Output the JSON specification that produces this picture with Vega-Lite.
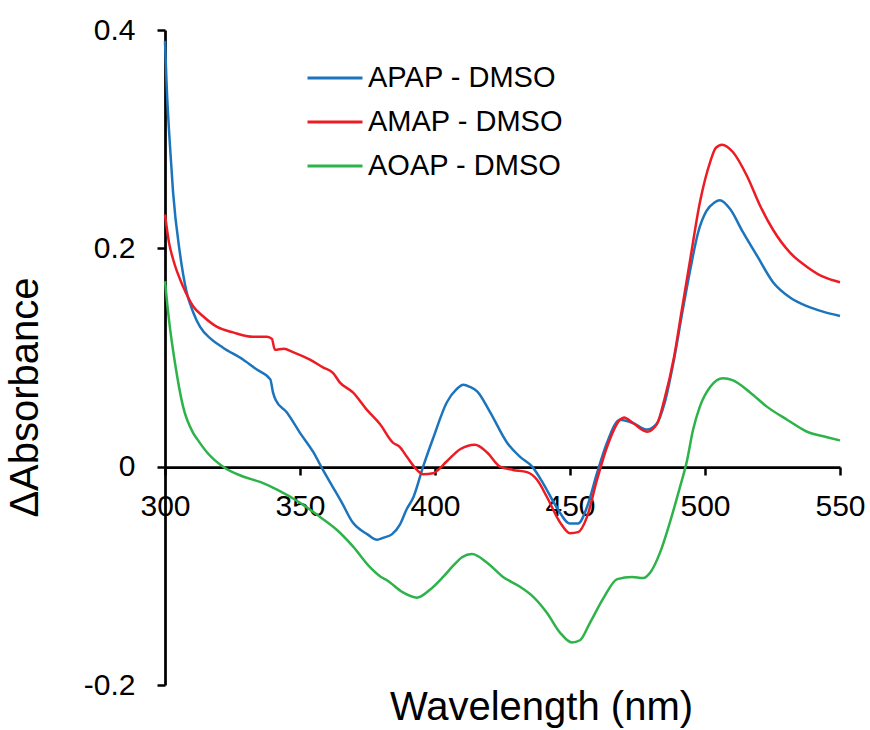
{
  "$schema": "https://vega.github.io/schema/vega-lite/v6.json",
  "width": 675,
  "height": 655,
  "autosize": "none",
  "padding": {"left": 165, "top": 30, "right": 30, "bottom": 45},
  "background": "white",
  "config": {
    "font": "Liberation Sans",
    "view": {"stroke": null},
    "axis": {"grid": false}
  },
  "data": {
    "values": [
      {"series": "APAP - DMSO", "wl": 300, "abs": 0.39},
      {"series": "APAP - DMSO", "wl": 300.6, "abs": 0.35},
      {"series": "APAP - DMSO", "wl": 302, "abs": 0.288},
      {"series": "APAP - DMSO", "wl": 303, "abs": 0.251},
      {"series": "APAP - DMSO", "wl": 305.5, "abs": 0.196},
      {"series": "APAP - DMSO", "wl": 308, "abs": 0.16},
      {"series": "APAP - DMSO", "wl": 310.5, "abs": 0.141},
      {"series": "APAP - DMSO", "wl": 313, "abs": 0.128},
      {"series": "APAP - DMSO", "wl": 317, "abs": 0.117},
      {"series": "APAP - DMSO", "wl": 321.5, "abs": 0.109},
      {"series": "APAP - DMSO", "wl": 329, "abs": 0.098},
      {"series": "APAP - DMSO", "wl": 334, "abs": 0.089},
      {"series": "APAP - DMSO", "wl": 339, "abs": 0.08},
      {"series": "APAP - DMSO", "wl": 340, "abs": 0.068},
      {"series": "APAP - DMSO", "wl": 341, "abs": 0.061},
      {"series": "APAP - DMSO", "wl": 345, "abs": 0.05},
      {"series": "APAP - DMSO", "wl": 350, "abs": 0.031},
      {"series": "APAP - DMSO", "wl": 355, "abs": 0.013},
      {"series": "APAP - DMSO", "wl": 358.5, "abs": -0.003},
      {"series": "APAP - DMSO", "wl": 362, "abs": -0.018},
      {"series": "APAP - DMSO", "wl": 365.5, "abs": -0.033},
      {"series": "APAP - DMSO", "wl": 369.5, "abs": -0.051},
      {"series": "APAP - DMSO", "wl": 375, "abs": -0.062},
      {"series": "APAP - DMSO", "wl": 378.5, "abs": -0.067},
      {"series": "APAP - DMSO", "wl": 381, "abs": -0.065},
      {"series": "APAP - DMSO", "wl": 384, "abs": -0.062},
      {"series": "APAP - DMSO", "wl": 387, "abs": -0.053},
      {"series": "APAP - DMSO", "wl": 389.5, "abs": -0.039},
      {"series": "APAP - DMSO", "wl": 392, "abs": -0.028},
      {"series": "APAP - DMSO", "wl": 395.6, "abs": 0.0},
      {"series": "APAP - DMSO", "wl": 399.3, "abs": 0.026},
      {"series": "APAP - DMSO", "wl": 404.4, "abs": 0.059},
      {"series": "APAP - DMSO", "wl": 408, "abs": 0.071},
      {"series": "APAP - DMSO", "wl": 410.5, "abs": 0.075},
      {"series": "APAP - DMSO", "wl": 413, "abs": 0.073},
      {"series": "APAP - DMSO", "wl": 415.6, "abs": 0.069},
      {"series": "APAP - DMSO", "wl": 420.4, "abs": 0.05},
      {"series": "APAP - DMSO", "wl": 426.7, "abs": 0.022},
      {"series": "APAP - DMSO", "wl": 431.5, "abs": 0.009},
      {"series": "APAP - DMSO", "wl": 436, "abs": 0.0},
      {"series": "APAP - DMSO", "wl": 440, "abs": -0.015},
      {"series": "APAP - DMSO", "wl": 445, "abs": -0.037},
      {"series": "APAP - DMSO", "wl": 450, "abs": -0.052},
      {"series": "APAP - DMSO", "wl": 453, "abs": -0.052},
      {"series": "APAP - DMSO", "wl": 456.3, "abs": -0.037},
      {"series": "APAP - DMSO", "wl": 460, "abs": -0.006},
      {"series": "APAP - DMSO", "wl": 463.7, "abs": 0.022},
      {"series": "APAP - DMSO", "wl": 468.5, "abs": 0.043},
      {"series": "APAP - DMSO", "wl": 473.3, "abs": 0.04},
      {"series": "APAP - DMSO", "wl": 478.5, "abs": 0.034},
      {"series": "APAP - DMSO", "wl": 482, "abs": 0.039},
      {"series": "APAP - DMSO", "wl": 485, "abs": 0.058},
      {"series": "APAP - DMSO", "wl": 488.5, "abs": 0.098},
      {"series": "APAP - DMSO", "wl": 491.5, "abs": 0.14},
      {"series": "APAP - DMSO", "wl": 494.5, "abs": 0.18},
      {"series": "APAP - DMSO", "wl": 497.5, "abs": 0.215},
      {"series": "APAP - DMSO", "wl": 500.5, "abs": 0.234},
      {"series": "APAP - DMSO", "wl": 503.5, "abs": 0.242},
      {"series": "APAP - DMSO", "wl": 505.5, "abs": 0.244},
      {"series": "APAP - DMSO", "wl": 509.3, "abs": 0.236},
      {"series": "APAP - DMSO", "wl": 514, "abs": 0.215},
      {"series": "APAP - DMSO", "wl": 519.3, "abs": 0.193},
      {"series": "APAP - DMSO", "wl": 525.2, "abs": 0.169},
      {"series": "APAP - DMSO", "wl": 531.5, "abs": 0.155},
      {"series": "APAP - DMSO", "wl": 537.8, "abs": 0.147},
      {"series": "APAP - DMSO", "wl": 543.7, "abs": 0.142},
      {"series": "APAP - DMSO", "wl": 550, "abs": 0.138},

      {"series": "AMAP - DMSO", "wl": 300, "abs": 0.231},
      {"series": "AMAP - DMSO", "wl": 301.5, "abs": 0.205},
      {"series": "AMAP - DMSO", "wl": 303, "abs": 0.19},
      {"series": "AMAP - DMSO", "wl": 306.7, "abs": 0.165},
      {"series": "AMAP - DMSO", "wl": 310.4, "abs": 0.147},
      {"series": "AMAP - DMSO", "wl": 314, "abs": 0.138},
      {"series": "AMAP - DMSO", "wl": 319.3, "abs": 0.128},
      {"series": "AMAP - DMSO", "wl": 325.2, "abs": 0.123},
      {"series": "AMAP - DMSO", "wl": 332.6, "abs": 0.119},
      {"series": "AMAP - DMSO", "wl": 337.8, "abs": 0.119},
      {"series": "AMAP - DMSO", "wl": 339.6, "abs": 0.117},
      {"series": "AMAP - DMSO", "wl": 340.7, "abs": 0.107},
      {"series": "AMAP - DMSO", "wl": 344, "abs": 0.108},
      {"series": "AMAP - DMSO", "wl": 347.4, "abs": 0.105},
      {"series": "AMAP - DMSO", "wl": 353.7, "abs": 0.098},
      {"series": "AMAP - DMSO", "wl": 358.5, "abs": 0.091},
      {"series": "AMAP - DMSO", "wl": 362.2, "abs": 0.086},
      {"series": "AMAP - DMSO", "wl": 364.8, "abs": 0.077},
      {"series": "AMAP - DMSO", "wl": 369.6, "abs": 0.068},
      {"series": "AMAP - DMSO", "wl": 374.8, "abs": 0.052},
      {"series": "AMAP - DMSO", "wl": 379.6, "abs": 0.039},
      {"series": "AMAP - DMSO", "wl": 384.4, "abs": 0.022},
      {"series": "AMAP - DMSO", "wl": 387, "abs": 0.018},
      {"series": "AMAP - DMSO", "wl": 389.6, "abs": 0.009},
      {"series": "AMAP - DMSO", "wl": 393.3, "abs": -0.003},
      {"series": "AMAP - DMSO", "wl": 395.6, "abs": -0.007},
      {"series": "AMAP - DMSO", "wl": 399.3, "abs": -0.006},
      {"series": "AMAP - DMSO", "wl": 404.4, "abs": 0.005},
      {"series": "AMAP - DMSO", "wl": 409.3, "abs": 0.016},
      {"series": "AMAP - DMSO", "wl": 412, "abs": 0.019},
      {"series": "AMAP - DMSO", "wl": 414.8, "abs": 0.02},
      {"series": "AMAP - DMSO", "wl": 419.3, "abs": 0.013},
      {"series": "AMAP - DMSO", "wl": 424.1, "abs": 0.0},
      {"series": "AMAP - DMSO", "wl": 428.9, "abs": -0.003},
      {"series": "AMAP - DMSO", "wl": 434.1, "abs": -0.005},
      {"series": "AMAP - DMSO", "wl": 437.8, "abs": -0.012},
      {"series": "AMAP - DMSO", "wl": 441.5, "abs": -0.028},
      {"series": "AMAP - DMSO", "wl": 446.3, "abs": -0.051},
      {"series": "AMAP - DMSO", "wl": 450, "abs": -0.061},
      {"series": "AMAP - DMSO", "wl": 453, "abs": -0.06},
      {"series": "AMAP - DMSO", "wl": 456.3, "abs": -0.046},
      {"series": "AMAP - DMSO", "wl": 460, "abs": -0.012},
      {"series": "AMAP - DMSO", "wl": 463.7, "abs": 0.018},
      {"series": "AMAP - DMSO", "wl": 468.5, "abs": 0.043},
      {"series": "AMAP - DMSO", "wl": 470, "abs": 0.045},
      {"series": "AMAP - DMSO", "wl": 473.3, "abs": 0.04},
      {"series": "AMAP - DMSO", "wl": 478.5, "abs": 0.032},
      {"series": "AMAP - DMSO", "wl": 482.2, "abs": 0.039},
      {"series": "AMAP - DMSO", "wl": 485, "abs": 0.062},
      {"series": "AMAP - DMSO", "wl": 488.5, "abs": 0.1},
      {"series": "AMAP - DMSO", "wl": 491.5, "abs": 0.145},
      {"series": "AMAP - DMSO", "wl": 494.4, "abs": 0.188},
      {"series": "AMAP - DMSO", "wl": 498.1, "abs": 0.242},
      {"series": "AMAP - DMSO", "wl": 501.9, "abs": 0.279},
      {"series": "AMAP - DMSO", "wl": 504, "abs": 0.292},
      {"series": "AMAP - DMSO", "wl": 506.3, "abs": 0.295},
      {"series": "AMAP - DMSO", "wl": 510.4, "abs": 0.288},
      {"series": "AMAP - DMSO", "wl": 515.6, "abs": 0.266},
      {"series": "AMAP - DMSO", "wl": 520.4, "abs": 0.239},
      {"series": "AMAP - DMSO", "wl": 525.2, "abs": 0.217},
      {"series": "AMAP - DMSO", "wl": 531.5, "abs": 0.196},
      {"series": "AMAP - DMSO", "wl": 537.8, "abs": 0.183},
      {"series": "AMAP - DMSO", "wl": 543.7, "abs": 0.174},
      {"series": "AMAP - DMSO", "wl": 550, "abs": 0.169},

      {"series": "AOAP - DMSO", "wl": 300, "abs": 0.17},
      {"series": "AOAP - DMSO", "wl": 301, "abs": 0.145},
      {"series": "AOAP - DMSO", "wl": 301.9, "abs": 0.126},
      {"series": "AOAP - DMSO", "wl": 303.7, "abs": 0.095},
      {"series": "AOAP - DMSO", "wl": 306.7, "abs": 0.055},
      {"series": "AOAP - DMSO", "wl": 310.4, "abs": 0.031},
      {"series": "AOAP - DMSO", "wl": 312, "abs": 0.025},
      {"series": "AOAP - DMSO", "wl": 315.6, "abs": 0.013},
      {"series": "AOAP - DMSO", "wl": 321.5, "abs": 0.0},
      {"series": "AOAP - DMSO", "wl": 328.9, "abs": -0.009},
      {"series": "AOAP - DMSO", "wl": 335.2, "abs": -0.014},
      {"series": "AOAP - DMSO", "wl": 341.5, "abs": -0.021},
      {"series": "AOAP - DMSO", "wl": 350, "abs": -0.033},
      {"series": "AOAP - DMSO", "wl": 357.4, "abs": -0.046},
      {"series": "AOAP - DMSO", "wl": 363.7, "abs": -0.058},
      {"series": "AOAP - DMSO", "wl": 369.6, "abs": -0.073},
      {"series": "AOAP - DMSO", "wl": 375.9, "abs": -0.092},
      {"series": "AOAP - DMSO", "wl": 380, "abs": -0.101},
      {"series": "AOAP - DMSO", "wl": 382.2, "abs": -0.104},
      {"series": "AOAP - DMSO", "wl": 388, "abs": -0.115},
      {"series": "AOAP - DMSO", "wl": 393.3, "abs": -0.12},
      {"series": "AOAP - DMSO", "wl": 398, "abs": -0.113},
      {"series": "AOAP - DMSO", "wl": 403, "abs": -0.101},
      {"series": "AOAP - DMSO", "wl": 407, "abs": -0.09},
      {"series": "AOAP - DMSO", "wl": 410, "abs": -0.083},
      {"series": "AOAP - DMSO", "wl": 413.7, "abs": -0.08},
      {"series": "AOAP - DMSO", "wl": 419.3, "abs": -0.088},
      {"series": "AOAP - DMSO", "wl": 425.2, "abs": -0.101},
      {"series": "AOAP - DMSO", "wl": 431.5, "abs": -0.11},
      {"series": "AOAP - DMSO", "wl": 436.3, "abs": -0.119},
      {"series": "AOAP - DMSO", "wl": 441.5, "abs": -0.134},
      {"series": "AOAP - DMSO", "wl": 446.3, "abs": -0.152},
      {"series": "AOAP - DMSO", "wl": 450.7, "abs": -0.161},
      {"series": "AOAP - DMSO", "wl": 453.7, "abs": -0.159},
      {"series": "AOAP - DMSO", "wl": 457.4, "abs": -0.143},
      {"series": "AOAP - DMSO", "wl": 462.5, "abs": -0.12},
      {"series": "AOAP - DMSO", "wl": 467.5, "abs": -0.103},
      {"series": "AOAP - DMSO", "wl": 473, "abs": -0.101},
      {"series": "AOAP - DMSO", "wl": 477, "abs": -0.102},
      {"series": "AOAP - DMSO", "wl": 480, "abs": -0.096},
      {"series": "AOAP - DMSO", "wl": 483.3, "abs": -0.079},
      {"series": "AOAP - DMSO", "wl": 487, "abs": -0.051},
      {"series": "AOAP - DMSO", "wl": 490.7, "abs": -0.019},
      {"series": "AOAP - DMSO", "wl": 493.2, "abs": 0.004},
      {"series": "AOAP - DMSO", "wl": 495.6, "abs": 0.034},
      {"series": "AOAP - DMSO", "wl": 498.1, "abs": 0.055},
      {"series": "AOAP - DMSO", "wl": 501.9, "abs": 0.073},
      {"series": "AOAP - DMSO", "wl": 506.7, "abs": 0.081},
      {"series": "AOAP - DMSO", "wl": 510.4, "abs": 0.079},
      {"series": "AOAP - DMSO", "wl": 516.7, "abs": 0.068},
      {"series": "AOAP - DMSO", "wl": 522.9, "abs": 0.055},
      {"series": "AOAP - DMSO", "wl": 530.4, "abs": 0.043},
      {"series": "AOAP - DMSO", "wl": 537.8, "abs": 0.032},
      {"series": "AOAP - DMSO", "wl": 545.2, "abs": 0.027},
      {"series": "AOAP - DMSO", "wl": 550, "abs": 0.024}
    ]
  },
  "mark": {"type": "line", "strokeWidth": 2.5, "interpolate": "monotone"},
  "encoding": {
    "x": {
      "field": "wl",
      "type": "quantitative",
      "scale": {"domain": [300, 550], "nice": false, "zero": false},
      "axis": {
        "values": [300, 350, 400, 450, 500, 550],
        "offset": -218,
        "domainColor": "black",
        "domainWidth": 2.75,
        "tickColor": "black",
        "tickWidth": 2.5,
        "tickSize": 8,
        "labelFontSize": 30,
        "labelColor": "black",
        "labelPadding": 16,
        "labelFlush": false,
        "title": "Wavelength (nm)",
        "titleFontSize": 40,
        "titleFontWeight": "normal",
        "titleColor": "black",
        "titleX": 376,
        "titleY": 252,
        "titleAlign": "center",
        "titleBaseline": "alphabetic"
      }
    },
    "y": {
      "field": "abs",
      "type": "quantitative",
      "scale": {"domain": [-0.2, 0.4], "nice": false, "zero": false},
      "axis": {
        "values": [-0.2, 0, 0.2, 0.4],
        "labelExpr": "datum.value < 0 ? '-' + format(-datum.value, '.1f') : (datum.value == 0 ? '0' : format(datum.value, '.1f'))",
        "domainColor": "black",
        "domainWidth": 2.75,
        "tickColor": "black",
        "tickWidth": 2.5,
        "tickSize": 8,
        "labelFontSize": 30,
        "labelColor": "black",
        "labelPadding": 22,
        "labelFlush": false,
        "title": "ΔAbsorbance",
        "titleFontSize": 40,
        "titleFontWeight": "normal",
        "titleColor": "black",
        "titleX": -128,
        "titleY": 367,
        "titleAngle": -90,
        "titleAlign": "center",
        "titleBaseline": "alphabetic"
      }
    },
    "color": {
      "field": "series",
      "type": "nominal",
      "sort": null,
      "scale": {
        "domain": ["APAP - DMSO", "AMAP - DMSO", "AOAP - DMSO"],
        "range": ["#1C75BC", "#ED1C24", "#2DB34A"]
      },
      "legend": {
        "title": null,
        "orient": "none",
        "legendX": 141,
        "legendY": 19,
        "padding": 0,
        "symbolType": "stroke",
        "symbolSize": 3025,
        "symbolStrokeWidth": 3,
        "labelFontSize": 29,
        "labelColor": "black",
        "labelLimit": 0,
        "labelOffset": 4,
        "rowPadding": -3
      }
    }
  }
}
